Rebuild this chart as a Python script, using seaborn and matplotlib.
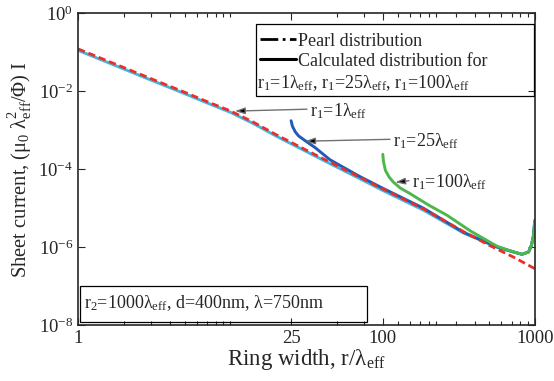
import numpy as np
import pandas as pd
import seaborn as sns
import matplotlib.pyplot as plt
from matplotlib.lines import Line2D
from matplotlib.patches import Rectangle

# ring width r/lambda_eff and sheet current
pearl_r = [1, 2, 3, 5, 7, 10, 14, 20, 40, 70, 100, 185, 340, 500, 720, 900, 1000]
pearl_I = [0.120, 0.0398, 0.0209, 0.00933, 0.0054, 0.00309, 0.00163, 7.6e-4,
           1.9e-4, 6.3e-5, 3.1e-5, 9.6e-6, 2.5e-6, 1.12e-6, 5.6e-7, 3.5e-7, 2.8e-7]

r1_1_r = [1, 2, 3, 5, 7, 10, 14, 20, 40, 70, 100, 185, 340, 560, 720, 820,
          906, 945, 975, 990, 1000]
r1_1_I = [0.110, 0.0366, 0.0192, 0.0086, 0.0050, 0.00285, 0.0015, 7.0e-4,
          1.75e-4, 5.8e-5, 2.85e-5, 8.9e-6, 2.3e-6, 1.02e-6, 7.6e-7, 6.6e-7,
          7.6e-7, 1.12e-6, 2.0e-6, 4.0e-6, 5.0e-6]

r1_25_r = [25, 25.5, 26.6, 28, 31.7, 36, 45, 70, 100, 185, 340, 560, 720,
           820, 906, 945, 975, 990, 1000]
r1_25_I = [1.74e-3, 1.26e-3, 9.1e-4, 7.1e-4, 5.0e-4, 3.55e-4, 1.74e-4,
           6.6e-5, 3.24e-5, 1.0e-5, 2.4e-6, 1.02e-6, 7.6e-7, 6.6e-7, 7.6e-7,
           1.12e-6, 2.0e-6, 4.0e-6, 5.0e-6]

r1_100_r = [100, 101, 104, 110, 117, 130, 150, 200, 264, 375, 560, 720, 820,
            906, 945, 975, 990, 1000]
r1_100_I = [2.4e-4, 1.58e-4, 9.3e-5, 6.3e-5, 4.7e-5, 3.3e-5, 2.4e-5, 1.2e-5,
            6.6e-6, 2.63e-6, 1.07e-6, 7.6e-7, 6.6e-7, 7.6e-7, 1.12e-6,
            2.0e-6, 4.0e-6, 5.0e-6]

xticks = [1, 25, 100, 1000]
xminor = [2, 3, 4, 5, 6, 7, 8, 9, 10, 50, 75, 125, 150, 175, 200, 225,
          300, 400, 500, 600, 700, 800, 900]
yticks = [1e-8, 1e-6, 1e-4, 1e-2, 1e0]

sns.set_style('ticks')
plt.rcParams['font.family'] = ['Liberation Serif', 'DejaVu Serif']
plt.rcParams['mathtext.fontset'] = 'custom'
plt.rcParams['mathtext.rm'] = 'Liberation Serif'
plt.rcParams['mathtext.it'] = 'Liberation Serif:italic'
plt.rcParams['mathtext.bf'] = 'Liberation Serif:bold'

fig = plt.figure(figsize=(5.54, 3.81), dpi=100)
ax = fig.add_axes([0.141, 0.146, 0.825, 0.820])

calc = [(r1_1_r, r1_1_I, '#45B5DF'),
        (r1_25_r, r1_25_I, '#1F5BB8'),
        (r1_100_r, r1_100_I, '#4CB84A')]
for rr, ii, c in calc:
    df = pd.DataFrame({'r': rr, 'I': ii})
    sns.lineplot(data=df, x='r', y='I', ax=ax, color=c, lw=2.1,
                 estimator=None, sort=False)

pearl = pd.DataFrame({'r': pearl_r, 'I': pearl_I})
sns.lineplot(data=pearl, x='r', y='I', ax=ax, color='#E8302A', lw=2.0,
             linestyle=(0, (2.6, 1.4)), estimator=None, sort=False)

ax.set_xscale('log')
ax.set_yscale('log')
ax.set_xlim(1, 1000)
ax.set_ylim(1e-8, 1)
ax.set_xticks(xticks, labels=[str(t) for t in xticks])
ax.set_xticks(xminor, minor=True)
ax.xaxis.set_minor_formatter(plt.NullFormatter())
ax.set_yticks(yticks)
ax.yaxis.set_minor_locator(plt.NullLocator())
ax.tick_params(which='both', direction='in', top=True, right=True,
               labelsize=13.5, width=0.8)
ax.tick_params(which='major', length=5)
ax.tick_params(which='minor', length=3)
for s in ax.spines.values():
    s.set_linewidth(1.2)

ax.set_xlabel(r'Ring width, r/$\mathrm{\lambda}_\mathrm{eff}$', fontsize=16.5,
              labelpad=0)
ax.set_ylabel(r'Sheet current, ($\mathrm{\mu}_0$ $\mathrm{\lambda}^2_\mathrm{eff}$/$\mathrm{\Phi}$) I',
              fontsize=14.8, labelpad=3)

# legend
handles = [Line2D([], [], color='black', lw=2, linestyle='-.'),
           Line2D([], [], color='black', lw=2.2)]
leg = ax.legend(handles, ['Pearl distribution', 'Calculated distribution for'],
                loc='upper left', bbox_to_anchor=(0.39, 0.948), frameon=False,
                fontsize=13, handlelength=2.0, handletextpad=0.1,
                labelspacing=0.15, borderpad=0.2, borderaxespad=0)
ax.add_patch(Rectangle((0.39, 0.734), 0.608, 0.231, transform=ax.transAxes,
                       fill=False, ec='black', lw=0.9, zorder=5))
ax.text(0.392, 0.776,
        r'r$_1$=1$\mathrm{\lambda}_\mathrm{eff}$, r$_1$=25$\mathrm{\lambda}_\mathrm{eff}$, r$_1$=100$\mathrm{\lambda}_\mathrm{eff}$',
        transform=ax.transAxes, fontsize=13, va='center', ha='left')

# parameter box
ax.add_patch(Rectangle((0.004, 0.01), 0.628, 0.115, transform=ax.transAxes,
                       fill=False, ec='black', lw=0.9, zorder=5))
ax.text(0.012, 0.07,
        r'r$_2$=1000$\mathrm{\lambda}_\mathrm{eff}$, d=400nm, $\mathrm{\lambda}$=750nm',
        transform=ax.transAxes, fontsize=13, va='center', ha='left')

# arrows to curves
notes = [(r'r$_1$=1$\mathrm{\lambda}_\mathrm{eff}$', (10.7, 3.07e-3), 33.4),
         (r'r$_1$=25$\mathrm{\lambda}_\mathrm{eff}$', (30.9, 5.2e-4), 117),
         (r'r$_1$=100$\mathrm{\lambda}_\mathrm{eff}$', (120.6, 4.6e-5), 156)]
for txt, tip, tx in notes:
    ax.annotate(txt, xy=tip, xytext=(tx, tip[1]), fontsize=13,
                va='center', ha='left',
                arrowprops=dict(arrowstyle='-|>,head_length=0.45,head_width=0.15',
                                ec='#707070', fc='black', lw=1.0,
                                shrinkA=0, shrinkB=0, relpos=(0, 0.6)))

plt.savefig('out.png', dpi=100)
